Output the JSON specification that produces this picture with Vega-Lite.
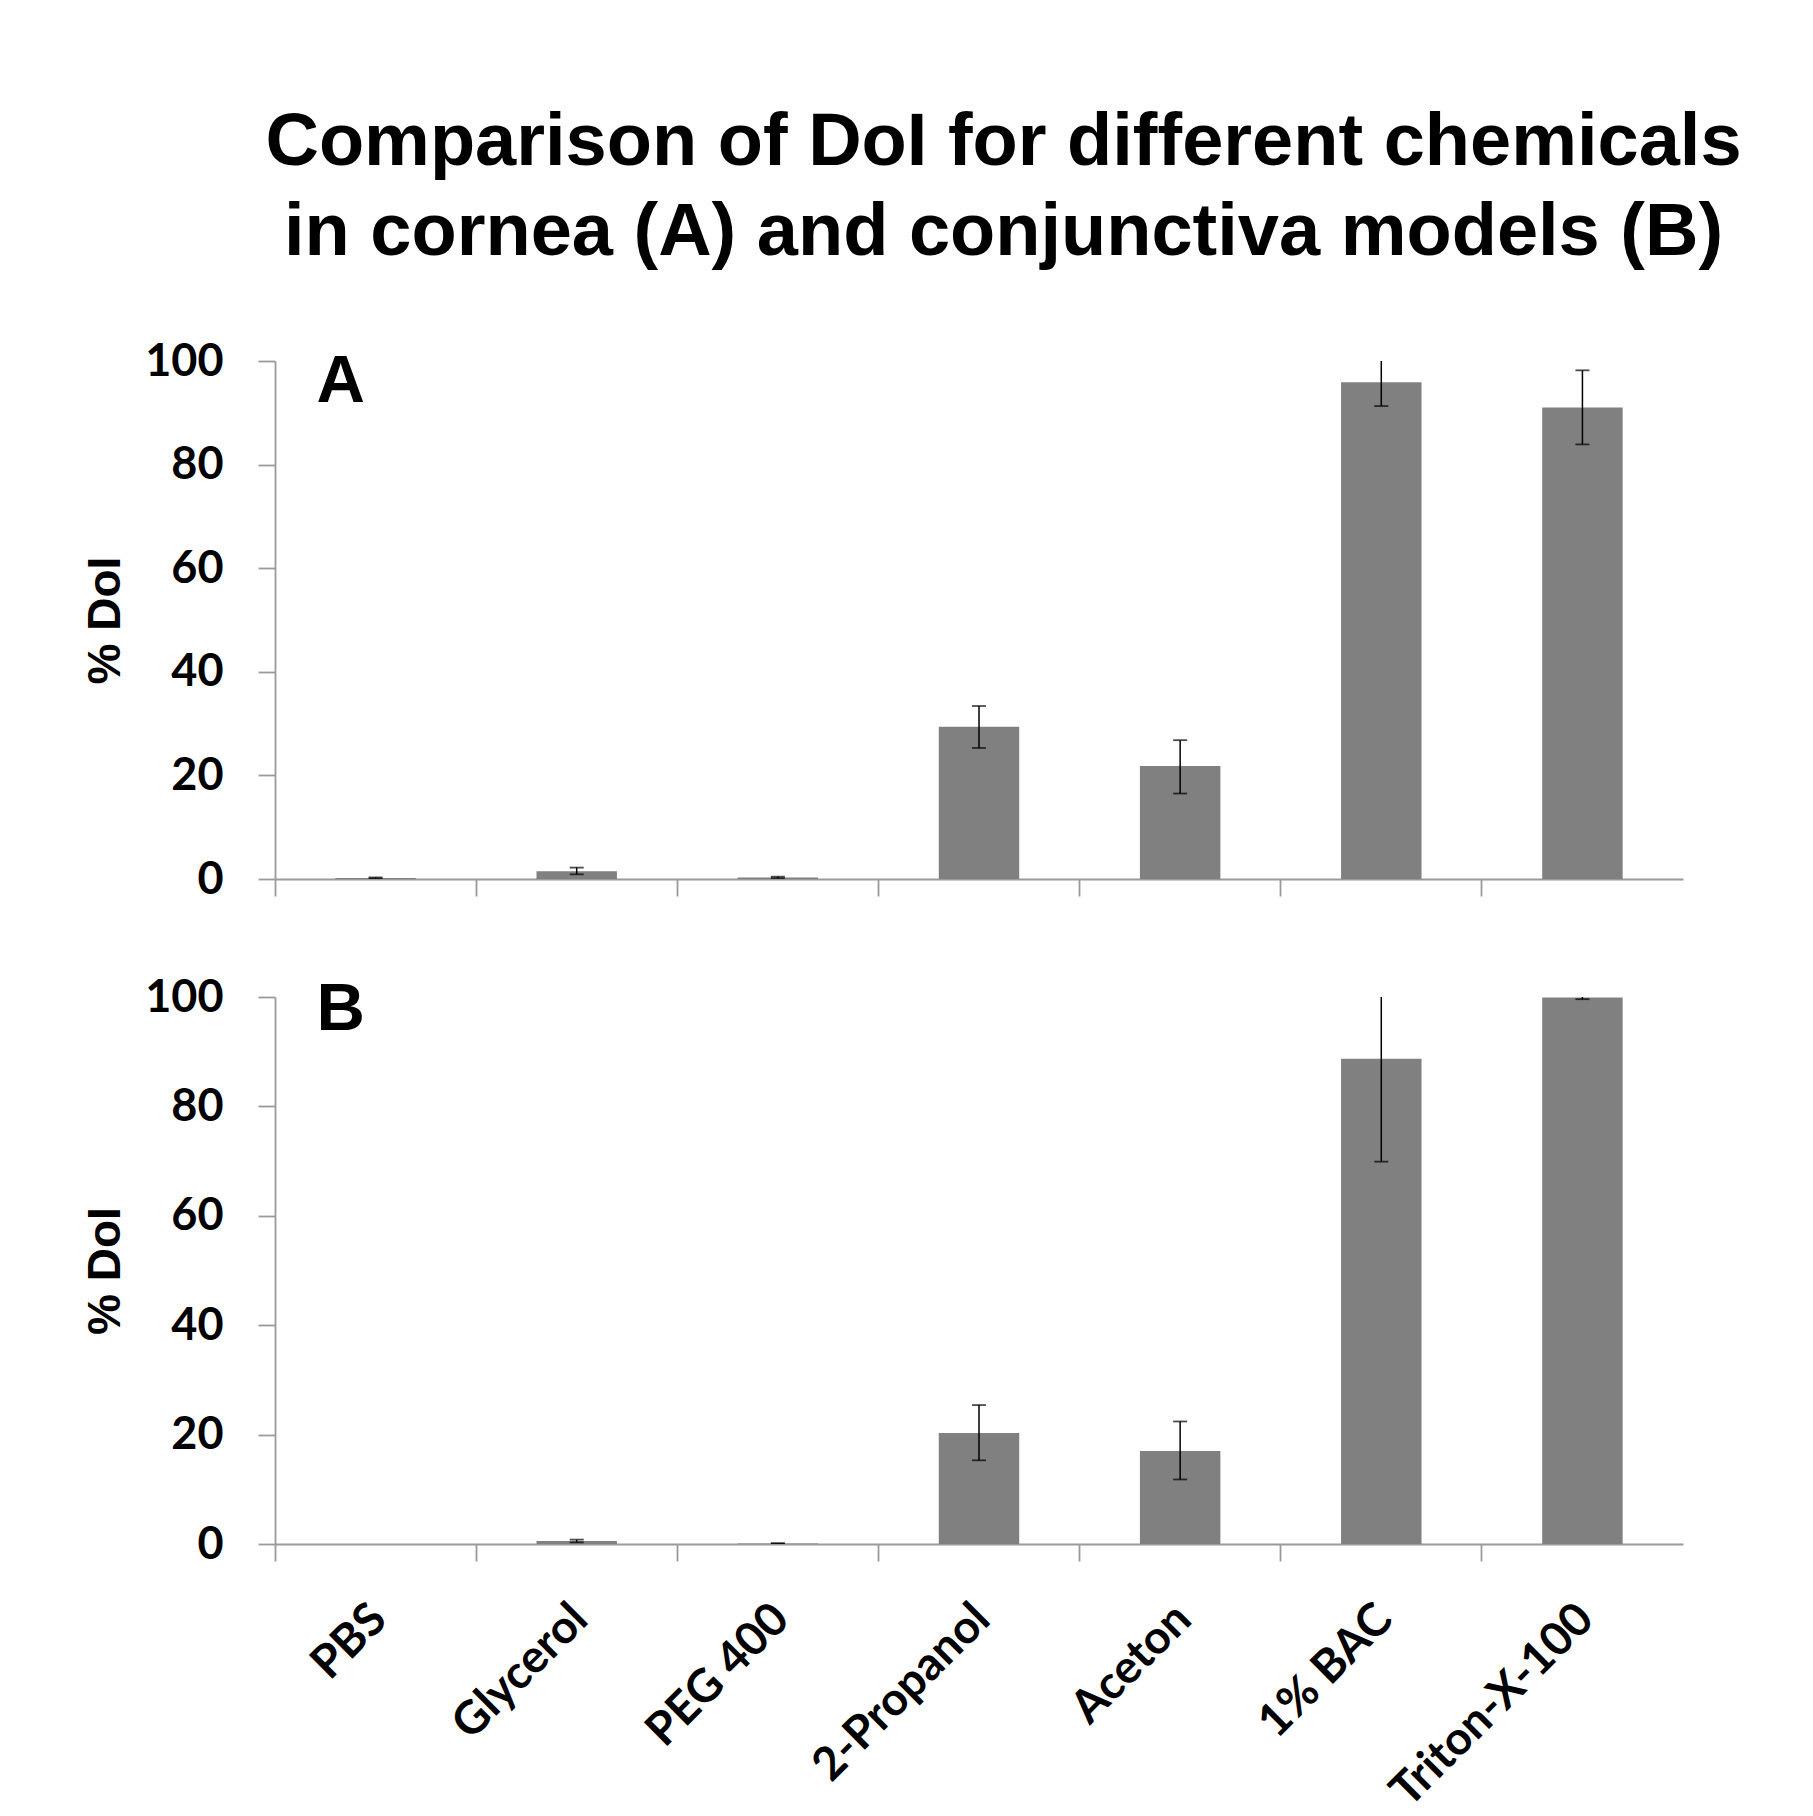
{
  "$schema": "https://vega.github.io/schema/vega-lite/v6.json",
  "autosize": {"type": "pad"},
  "padding": {"left": 81, "top": 106, "right": 5, "bottom": 5},
  "background": "white",
  "title": {
    "text": ["Comparison of DoI for different chemicals", "in cornea (A) and conjunctiva models (B)"],
    "font": "Liberation Sans",
    "fontSize": 74,
    "fontWeight": "bold",
    "color": "black",
    "lineHeight": 90,
    "anchor": "middle",
    "dx": 121,
    "offset": 68
  },
  "datasets": {
    "A": [
      {"chemical": "PBS", "value": 0.2, "lo": 0.1, "hi": 0.3},
      {"chemical": "Glycerol", "value": 1.5, "lo": 0.9, "hi": 2.2},
      {"chemical": "PEG 400", "value": 0.3, "lo": 0.15, "hi": 0.45},
      {"chemical": "2-Propanol", "value": 29.4, "lo": 25.3, "hi": 33.4},
      {"chemical": "Aceton", "value": 21.8, "lo": 16.5, "hi": 26.8},
      {"chemical": "1% BAC", "value": 95.9, "lo": 91.3, "hi": 100.5},
      {"chemical": "Triton-X-100", "value": 91.0, "lo": 83.9, "hi": 98.2}
    ],
    "B": [
      {"chemical": "PBS", "value": 0, "lo": null, "hi": null},
      {"chemical": "Glycerol", "value": 0.55, "lo": 0.3, "hi": 0.8},
      {"chemical": "PEG 400", "value": 0.1, "lo": 0.05, "hi": 0.15},
      {"chemical": "2-Propanol", "value": 20.3, "lo": 15.3, "hi": 25.4},
      {"chemical": "Aceton", "value": 17.0, "lo": 11.8, "hi": 22.4},
      {"chemical": "1% BAC", "value": 88.7, "lo": 69.9, "hi": 107.5},
      {"chemical": "Triton-X-100", "value": 99.9, "lo": 99.6, "hi": 100.2}
    ]
  },
  "spacing": 118,
  "bounds": "flush",
  "vconcat": [
    {
      "width": 1408,
      "height": 518,
      "data": {"name": "A"},
      "encoding": {
        "x": {
          "field": "chemical", "type": "nominal", "title": null,
          "scale": {"domain": ["PBS", "Glycerol", "PEG 400", "2-Propanol", "Aceton", "1% BAC", "Triton-X-100"], "paddingInner": 0, "paddingOuter": 0},
          "axis": {"labels": false, "bandPosition": 0, "tickSize": 17}
        }
      },
      "layer": [
        {
          "mark": {"type": "bar", "color": "#808080", "width": {"band": 0.4}},
          "encoding": {
            "y": {
              "field": "value", "type": "quantitative", "title": "% DoI",
              "scale": {"domain": [0, 100], "nice": false},
              "axis": {"values": [0, 20, 40, 60, 80, 100], "titleX": -170, "titleY": 259, "titleAlign": "center", "titleBaseline": "middle", "titleAngle": -90}
            }
          }
        },
        {
          "mark": {"type": "rule", "color": "black", "strokeWidth": 1.5, "clip": true},
          "encoding": {
            "y": {"field": "lo", "type": "quantitative", "title": "% DoI"},
            "y2": {"field": "hi"}
          }
        },
        {
          "mark": {"type": "tick", "orient": "horizontal", "size": 14, "thickness": 1.8, "color": "black", "clip": true},
          "encoding": {"y": {"field": "lo", "type": "quantitative", "title": "% DoI"}}
        },
        {
          "mark": {"type": "tick", "orient": "horizontal", "size": 14, "thickness": 1.8, "color": "black", "clip": true},
          "encoding": {"y": {"field": "hi", "type": "quantitative", "title": "% DoI"}}
        },
        {
          "data": {"values": [{"label": "A"}]},
          "mark": {"type": "text", "font": "Liberation Sans", "fontWeight": "bold", "fontSize": 67, "color": "black", "align": "center", "baseline": "alphabetic", "dx": -35, "dy": 41},
          "encoding": {
            "text": {"field": "label"},
            "x": {"datum": "PBS"},
            "y": {"datum": 100, "type": "quantitative"}
          }
        }
      ]
    },
    {
      "width": 1408,
      "height": 547,
      "data": {"name": "B"},
      "encoding": {
        "x": {
          "field": "chemical", "type": "nominal", "title": null,
          "scale": {"domain": ["PBS", "Glycerol", "PEG 400", "2-Propanol", "Aceton", "1% BAC", "Triton-X-100"], "paddingInner": 0, "paddingOuter": 0},
          "axis": {"labelAngle": -45, "bandPosition": 0, "tickSize": 17, "labelOverlap": false, "labelPadding": 35, "labelOffset": -12, "labelLimit": 0, "labelFontSize": 46}
        }
      },
      "layer": [
        {
          "mark": {"type": "bar", "color": "#808080", "width": {"band": 0.4}},
          "encoding": {
            "y": {
              "field": "value", "type": "quantitative", "title": "% DoI",
              "scale": {"domain": [0, 100], "nice": false},
              "axis": {"values": [0, 20, 40, 60, 80, 100], "titleX": -170, "titleY": 273.5, "titleAlign": "center", "titleBaseline": "middle", "titleAngle": -90}
            }
          }
        },
        {
          "mark": {"type": "rule", "color": "black", "strokeWidth": 1.5, "clip": true},
          "encoding": {
            "y": {"field": "lo", "type": "quantitative", "title": "% DoI"},
            "y2": {"field": "hi"}
          }
        },
        {
          "mark": {"type": "tick", "orient": "horizontal", "size": 14, "thickness": 1.8, "color": "black", "clip": true},
          "encoding": {"y": {"field": "lo", "type": "quantitative", "title": "% DoI"}}
        },
        {
          "mark": {"type": "tick", "orient": "horizontal", "size": 14, "thickness": 1.8, "color": "black", "clip": true},
          "encoding": {"y": {"field": "hi", "type": "quantitative", "title": "% DoI"}}
        },
        {
          "data": {"values": [{"label": "B"}]},
          "mark": {"type": "text", "font": "Liberation Sans", "fontWeight": "bold", "fontSize": 67, "color": "black", "align": "center", "baseline": "alphabetic", "dx": -35, "dy": 33},
          "encoding": {
            "text": {"field": "label"},
            "x": {"datum": "PBS"},
            "y": {"datum": 100, "type": "quantitative"}
          }
        }
      ]
    }
  ],
  "config": {
    "view": {"stroke": null},
    "axis": {
      "domainColor": "#9a9a9a",
      "domainWidth": 1.8,
      "tickColor": "#9a9a9a",
      "tickWidth": 1.8,
      "grid": false,
      "labelFont": "Lato",
      "labelFontWeight": "bold",
      "labelFontSize": 45,
      "labelColor": "black",
      "titleFont": "Liberation Sans",
      "titleFontWeight": "bold",
      "titleFontSize": 46,
      "titleColor": "black"
    },
    "axisY": {"tickSize": 17, "labelPadding": 35}
  }
}
